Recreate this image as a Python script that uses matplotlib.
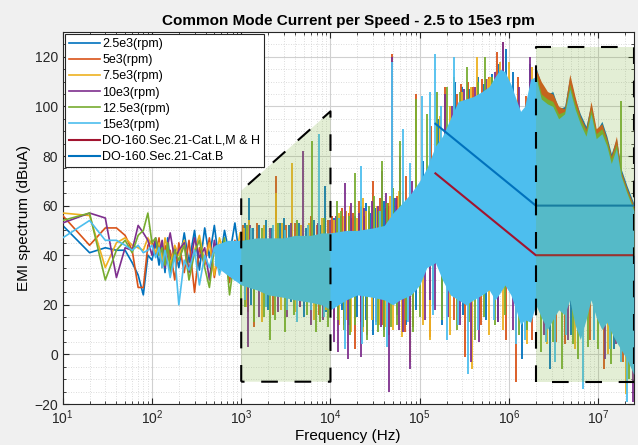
import numpy as np
import matplotlib
matplotlib.use("Agg")
import matplotlib.pyplot as plt
from matplotlib.ticker import NullFormatter

plt.rcParams['font.family'] = ['Liberation Sans', 'DejaVu Sans']

# ---- series names / colours (MATLAB default order)
series = ["2.5e3(rpm)", "5e3(rpm)", "7.5e3(rpm)", "10e3(rpm)", "12.5e3(rpm)", "15e3(rpm)"]
colors = ["#0072BD", "#D95319", "#EDB120", "#7E2F8E", "#77AC30", "#4DBEEE"]

# ---- low frequency part, individual lines (Hz / dBuA)
freq_lf = [10, 20, 30, 40, 50, 60, 70, 80, 90, 100,
           110, 120, 130, 140, 150, 160, 180, 200,
           230, 260, 300, 340, 390, 440, 500, 570, 650, 740, 850, 970]
lf_blue = [52, 41, 43, 42, 42, 37, 32, 24, 40, 38,
           45, 36, 44, 33, 47, 38, 43, 35,
           49, 37, 50, 34, 51, 39, 52, 36, 50, 40, 53, 38]
lf_orange = [56, 44, 51, 51, 48, 42, 27, 27, 44, 46,
             40, 47, 35, 44, 38, 42, 30, 45,
             33, 46, 25, 43, 36, 47, 31, 44, 38, 29, 46, 35]
lf_yellow = [57, 56, 35, 45, 47, 44, 43, 42, 47, 44,
             41, 45, 38, 47, 42, 36, 44, 40,
             46, 34, 42, 48, 37, 45, 32, 47, 40, 44, 36, 49]
lf_purple = [53, 57, 55, 31, 43, 42, 52, 49, 46, 40,
             47, 41, 46, 35, 44, 49, 38, 42,
             45, 33, 47, 39, 43, 30, 46, 36, 44, 41, 33, 45]
lf_green = [54, 57, 30, 42, 46, 41, 48, 50, 57, 45,
            47, 40, 43, 36, 45, 33, 42, 38,
            44, 30, 41, 46, 35, 27, 43, 34, 47, 24, 40, 31]
lf_cyan = [47, 54, 46, 46, 44, 42, 44, 41, 42, 44,
           39, 43, 35, 42, 37, 31, 40, 20,
           38, 34, 42, 28, 40, 35, 43, 32, 41, 37, 30, 44]

# ---- dense band of the 15e3 trace (upper / lower envelope)
band_f = [500, 700, 1e3, 1.5e3, 2e3, 3e3, 4e3, 6e3, 8e3, 1e4,
          1.5e4, 2e4, 3e4, 4e4, 5e4, 6e4, 8e4, 1e5, 1.2e5, 1.5e5,
          1.8e5, 2.2e5, 2.7e5, 3.3e5, 4e5, 5e5, 6e5, 7e5, 8e5, 9e5,
          1.05e6, 1.2e6, 1.35e6, 1.5e6, 1.75e6, 2e6, 2.3e6, 2.7e6, 3.1e6, 3.6e6,
          4.2e6, 4.8e6, 5.5e6, 6.3e6, 7.3e6, 8.3e6, 9.5e6, 1.1e7, 1.25e7, 1.4e7,
          1.6e7, 1.8e7, 2.1e7, 2.5e7]
cyan_top = [44, 46, 46, 47, 47, 47, 48, 48, 49, 49,
            50, 50, 51, 52, 57, 60, 65, 70, 75, 84,
            88, 95, 102, 103, 104, 106, 108, 112, 115, 114,
            109, 103, 98, 100, 111, 112, 103, 101, 100, 95,
            97, 107, 99, 93, 88, 97, 87, 89, 84, 77,
            83, 72, 65, 58]
cyan_bot = [36, 32, 28, 26, 24, 23, 22, 21, 20, 18,
            22, 24, 23, 22, 20, 22, 24, 28, 35, 37,
            30, 24, 22, 20, 22, 24, 26, 22, 25, 28,
            24, 18, 12, 14, 13, 20, 15, 10, 14, 18,
            16, 22, 12, 6, 14, 22, 15, 10, 13, 9,
            5, 2, -2, -8]

# ---- colored fringe on top of the band above 2 MHz
hf_f = [2e6, 2.3e6, 2.7e6, 3.1e6, 3.6e6, 4.2e6, 4.8e6, 5.5e6, 6.3e6, 7.3e6,
        8.3e6, 9.5e6, 1.1e7, 1.25e7, 1.4e7, 1.6e7, 1.8e7, 2.1e7, 2.5e7]
blue_top_hf = [116, 109, 105, 106, 99, 100, 112, 103, 97, 92,
               101, 90, 94, 88, 81, 87, 75, 68, 61]
orange_top_hf = [115, 110, 106, 105, 100, 99, 113, 104, 96, 91,
                 102, 91, 93, 87, 80, 88, 74, 67, 60]
green_top_hf = [114, 105, 103, 102, 97, 98, 109, 101, 95, 90,
                99, 89, 91, 86, 79, 85, 73, 66, 59]

# ---- individual spikes sticking out of the band (frequency, tip value)
spk_blue_f = [1.1e3, 1.22e3, 1.35e3, 1.6e3, 1.9e3, 2.2e3, 2.7e3, 3e3, 3.4e3, 4.4e3,
              5.3e3, 6.5e3, 7.8e3, 8.6e3, 1.3e4, 1.7e4, 2.2e4, 2.8e4, 3.5e4, 6e4,
              1.1e5, 1.6e5, 2.5e5, 3e5, 4.5e5, 6.5e5, 9.3e5, 1.1e6, 1.7e6,
              1.1e4, 1.5e4, 1.9e4, 2.5e4, 3.2e4, 4e4, 4.5e4, 5.2e4,
              3.6e5, 5.2e5, 7.8e5,
              1.3e3, 2e3, 3.6e3, 5e3, 9e3, 1.35e4, 2e4, 3e4, 5.5e4, 9e4,
              1.8e5, 3.05e5, 5.5e5, 7.5e5, 1.4e6, 2.85e6, 5e6, 9e6, 1.5e7,
              1.6e4, 2.5e4, 4e4, 7e4]
spk_blue_v = [53, 63, 51, 52, 54, 51, 53, 55, 52, 53,
              51, 54, 52, 68, 56, 55, 60, 57, 58, 70,
              78, 95, 110, 108, 112, 113, 123, 114, 117,
              55, 58, 56, 61, 59, 62, 60, 63,
              107, 109, 117,
              20, 18, 21, 15, 17, 18, 15, 8, 16, 18,
              12, 16, 14, 13, -2, -6, 8, 6, 2,
              12, 14, 10, 12]
spk_orange_f = [1.05e3, 1.5e3, 2.45e3, 3.2e3, 4e3, 6e3, 7e3, 9.5e3, 1.2e4, 1.6e4,
                2.4e4, 3e4, 4.2e4, 4.9e4, 7e4, 9e4, 1.35e5, 1.9e5, 2.9e5, 3.5e5,
                5e5, 7.3e5, 8.5e5, 1.25e6, 1.55e6,
                1.05e4, 1.35e4, 1.8e4, 2.1e4, 2.7e4, 3.6e4, 4.4e4, 5.5e4,
                2.6e5, 4e5, 6e5,
                1.2e3, 1.4e3, 2.3e3, 4.6e3, 7.5e3, 1.1e4, 1.87e4, 2.6e4, 3.8e4, 6.8e4,
                1.3e5, 2.4e5, 3.2e5, 4.8e5, 9.3e5, 1.2e6, 1.8e6, 3.4e6, 4.2e6, 8e6,
                1.17e7, 1.9e7,
                1.45e4, 2.2e4, 4.5e4, 8.5e4]
spk_orange_v = [52, 53, 72, 52, 53, 56, 52, 54, 55, 57,
                56, 70, 59, 121, 72, 105, 92, 108, 109, 110,
                111, 122, 126, 112, 104,
                56, 59, 57, 62, 58, 63, 61, 64,
                105, 108, 112,
                17, 11, 16, 19, 16, 14, 2, 10, 12, 9,
                7, 14, -1, 12, 6, -11, 6, 5, 4, 6,
                -6, -3,
                10, 13, 8, 11]
spk_yellow_f = [1.08e3, 1.22e3, 1.8e3, 2.45e3, 2.9e3, 3.7e3, 4.7e3, 5.8e3, 8e3, 1.1e4,
                1.4e4, 1.5e4, 2.5e4, 3.3e4, 4.9e4, 6.5e4, 9e4, 1.7e5, 2.2e5, 3.8e5,
                4.4e5, 6.2e5, 1e6, 1.8e6,
                1.25e4, 1.65e4, 2e4, 2.3e4, 3e4, 3.8e4, 4.6e4, 5.8e4,
                3e5, 5.8e5, 8e5,
                1.15e3, 1.7e3, 2.8e3, 4.1e3, 6.6e3, 8.8e3, 1.25e4, 1.7e4, 2.9e4, 4.1e4,
                6.3e4, 7.7e4, 1.1e5, 1.3e5, 2.2e5, 3.9e5, 6e5, 8.5e5, 1.6e6, 2.7e6,
                5.5e6, 1.3e7, 2.05e7,
                1.5e4, 2.3e4, 3.5e4, 5e4]
spk_yellow_v = [51, 54, 52, 65, 53, 77, 52, 53, 55, 54,
                56, 58, 58, 60, 119, 66, 100, 96, 100, 108,
                120, 112, 118, 116,
                57, 60, 55, 63, 57, 62, 64, 66,
                106, 111, 118,
                19, 13, 18, 17, 14, 18, 12, 9, 14, 11,
                7, -3, 12, 6, 8, -6, 8, 10, 4, 4,
                2, 0, -16,
                14, 9, 12, 10]
spk_purple_f = [1.25e3, 2.1e3, 3.6e3, 4.9e3, 7.2e3, 9.8e3, 1.45e4, 2.1e4, 3.8e4, 4.9e4,
                6e4, 8.2e4, 1.9e5, 3.1e5, 5.5e5, 8.5e5, 1.3e6, 1.7e6,
                1.15e4, 1.7e4, 2.4e4, 2.9e4, 3.4e4, 4.2e4, 5.4e4,
                2.3e5, 4.2e5, 7e5,
                1.2e3, 1.6e3, 2.6e3, 3.3e3, 4.5e3, 6.1e3, 8.2e3, 1.1e4, 1.2e4, 1.56e4,
                2.2e4, 3.2e4, 4.5e4, 5.8e4, 7.7e4, 1.15e5, 1.3e5, 1.5e5, 2.1e5, 2.8e5,
                3.8e5, 4.6e5, 7.5e5, 1.1e6, 2.5e6, 4.6e6, 1.2e7, 1.6e7, 2.45e7,
                1.4e4, 2.6e4, 3.7e4, 6.5e4]
spk_purple_v = [52, 51, 53, 82, 53, 54, 69, 57, 74, 120,
                80, 70, 105, 107, 111, 126, 108, 120,
                56, 61, 59, 62, 60, 65, 63,
                100, 108, 114,
                3, 15, 17, 15, 19, 12, 14, 5, 1, -2,
                -1, 13, -15, 10, -6, 14, 22, 18, 15, 12,
                -3, 5, 13, 10, 8, 6, -2, 4, -19,
                12, 8, 11, 9]
spk_green_f = [1.15e3, 1.7e3, 2.6e3, 4.2e3, 6.2e3, 8.4e3, 1.17e4, 1.87e4, 2.7e4, 3.8e4,
               6e4, 9e4, 1.2e5, 1.55e5, 2e5, 2.4e5, 3.4e5, 5.4e5, 1.78e7,
               1.3e4, 1.6e4, 2.2e4, 3.1e4, 3.5e4, 4.3e4, 5e4,
               2.8e5, 4.5e5, 6.5e5,
               1e3, 1.1e3, 1.4e3, 1.8e3, 2.1e3, 2.4e3, 3.1e3, 3.9e3, 5.4e3, 6.8e3,
               7.7e3, 9.3e3, 1.4e4, 1.9e4, 2.6e4, 3.4e4, 4.8e4, 7e4, 1e5, 1.4e5,
               1.8e5, 2.6e5, 3.6e5, 4.2e5, 5.2e5, 7e5, 9e5, 1.3e6, 1.6e6, 2.3e6,
               3.1e6, 3.9e6, 5.2e6, 6e6, 7.6e6, 1e7, 1.4e7, 2.2e7,
               1.2e4, 1.65e4, 2.3e4, 4e4, 5.5e4, 8.5e4]
spk_green_v = [52, 51, 53, 54, 86, 55, 62, 73, 60, 78,
               86, 103, 97, 106, 108, 112, 116, 120, 102,
               58, 56, 60, 64, 58, 61, 67,
               106, 110, 112,
               16, 19, 13, 15, 6, 14, 9, 16, 16, 9,
               13, 11, 10, 12, 6, 9, 11, 14, 15, 20,
               14, 10, 13, 6, 15, 12, 16, 8, 10, 1,
               5, -6, 4, -2, 3, 2, -4, -10,
               14, 8, 11, 7, 12, 9]
spk_cyan_f = [1.3e3, 2.3e3, 3.1e3, 5.6e3, 7.4e3, 1.25e4, 2.2e4, 3.6e4, 4.9e4, 6.5e4,
              7.7e4, 1.07e5, 1.3e5, 1.47e5, 1.75e5, 2.45e5,
              1.1e3, 1.9e3, 3.3e3, 4.2e3, 6e3, 8.5e3, 1.04e4, 1.45e4, 2.25e4, 3.2e4,
              4.3e4, 7.3e4, 1.4e5, 2e5, 2.7e5, 3.5e5, 4.5e5, 6.8e5, 1.2e6, 1.5e6,
              2.6e6, 3.3e6, 4.4e6, 6.7e6, 9e6, 1.35e7, 1.78e7, 2.1e7]
spk_cyan_v = [51, 52, 50, 52, 89, 55, 76, 58, 118, 91,
              77, 104, 106, 121, 100, 120,
              22, 19, 18, 13, 18, 15, 19, 2, 4, 12,
              3, 13, 16, 6, 12, -8, 10, 14, 4, 6,
              5, -3, 8, -14, 6, 2, -3, -19]

# ---- DO-160 limits
lim_f = [1.5e5, 2e6, 2.5e7]
lim_lmh = [73, 40, 40]
lim_b = [93, 60, 60]

# ---- shaded limit windows
win1_f = [1e3, 1e3, 1e4, 1e4]
win1_v = [-11, 66, 98, -11]
win2_f = [2e6, 2e6, 2.5e7, 2.5e7]
win2_v = [-11, 124, 124, -11]

xticks = [1e1, 1e2, 1e3, 1e4, 1e5, 1e6, 1e7]

MID = 40  # level inside the band the spikes / fringes hang from

fig = plt.figure(figsize=(6.38, 4.45), dpi=100, facecolor="#f0f0f0")
ax = fig.add_axes([0.0983, 0.0921, 0.895, 0.836])
ax.set_xscale("log")

lf_data = [lf_blue, lf_orange, lf_yellow, lf_purple, lf_green, lf_cyan]
spikes = [(spk_blue_f, spk_blue_v), (spk_orange_f, spk_orange_v),
          (spk_yellow_f, spk_yellow_v), (spk_purple_f, spk_purple_v),
          (spk_green_f, spk_green_v), (spk_cyan_f, spk_cyan_v)]
fringe = {0: blue_top_hf, 1: orange_top_hf, 4: green_top_hf}

handles = []
for i, (name, c) in enumerate(zip(series, colors)):
    z = 2 + i
    h, = ax.plot(freq_lf, lf_data[i], color=c, lw=1.2, label=name, zorder=z)
    handles.append(h)
    if i in fringe:
        ax.fill_between(hf_f, MID, fringe[i], color=c, lw=0, zorder=z)
    if i == 5:
        ax.fill_between(band_f, cyan_bot, cyan_top, color=c, lw=0, zorder=z)
    sf, sv = spikes[i]
    sv = np.asarray(sv, dtype=float)
    ax.vlines(sf, np.minimum(sv, MID), np.maximum(sv, MID), color=c, lw=1.3, zorder=z)

h1, = ax.plot(lim_f, lim_lmh, color="#A2142F", lw=1.5, zorder=9,
              label="DO-160.Sec.21-Cat.L,M & H")
h2, = ax.plot(lim_f, lim_b, color="#0072BD", lw=1.5, zorder=9,
              label="DO-160.Sec.21-Cat.B")
handles += [h1, h2]

for wf, wv in [(win1_f, win1_v), (win2_f, win2_v)]:
    ax.fill(wf, wv, facecolor="#77AC30", alpha=0.2, edgecolor="none", zorder=10)
    ax.plot(wf + [wf[0]], wv + [wv[0]], color="black", lw=1.5,
            linestyle=(0, (8, 8)), zorder=11)

ax.set_xlim(10, 2.5e7)
ax.set_ylim(-20, 130)
ax.set_xticks(xticks)
ax.xaxis.set_minor_formatter(NullFormatter())
ax.set_yticks(np.arange(-20, 121, 20))
ax.set_yticks(np.arange(-20, 130, 5), minor=True)
ax.set_axisbelow(True)
ax.grid(True, which="major", color="#d0d0d0", lw=0.8)
ax.grid(True, which="minor", color="#d0d0d0", lw=0.6, linestyle=(0, (1, 2)))
ax.tick_params(which="both", direction="in", top=True, right=True,
               labelsize=10, colors="#262626")
ax.tick_params(which="major", length=4)
ax.tick_params(which="minor", length=2)
for s in ax.spines.values():
    s.set_color("#262626")
    s.set_linewidth(0.8)

ax.set_title("Common Mode Current per Speed - 2.5 to 15e3 rpm",
             fontsize=11, fontweight="bold", pad=5)
ax.set_xlabel("Frequency (Hz)", fontsize=11, labelpad=1)
ax.set_ylabel("EMI spectrum (dBuA)", fontsize=11, labelpad=2)

leg = ax.legend(handles=handles, loc="upper left", fontsize=9,
                handlelength=2.5, handletextpad=0.15, borderaxespad=0.15,
                labelspacing=0.33, fancybox=False, framealpha=1,
                edgecolor="#262626", borderpad=0.35)
leg.get_frame().set_linewidth(0.8)
leg.set_zorder(20)

fig.savefig("out.png", dpi=100, facecolor=fig.get_facecolor())
